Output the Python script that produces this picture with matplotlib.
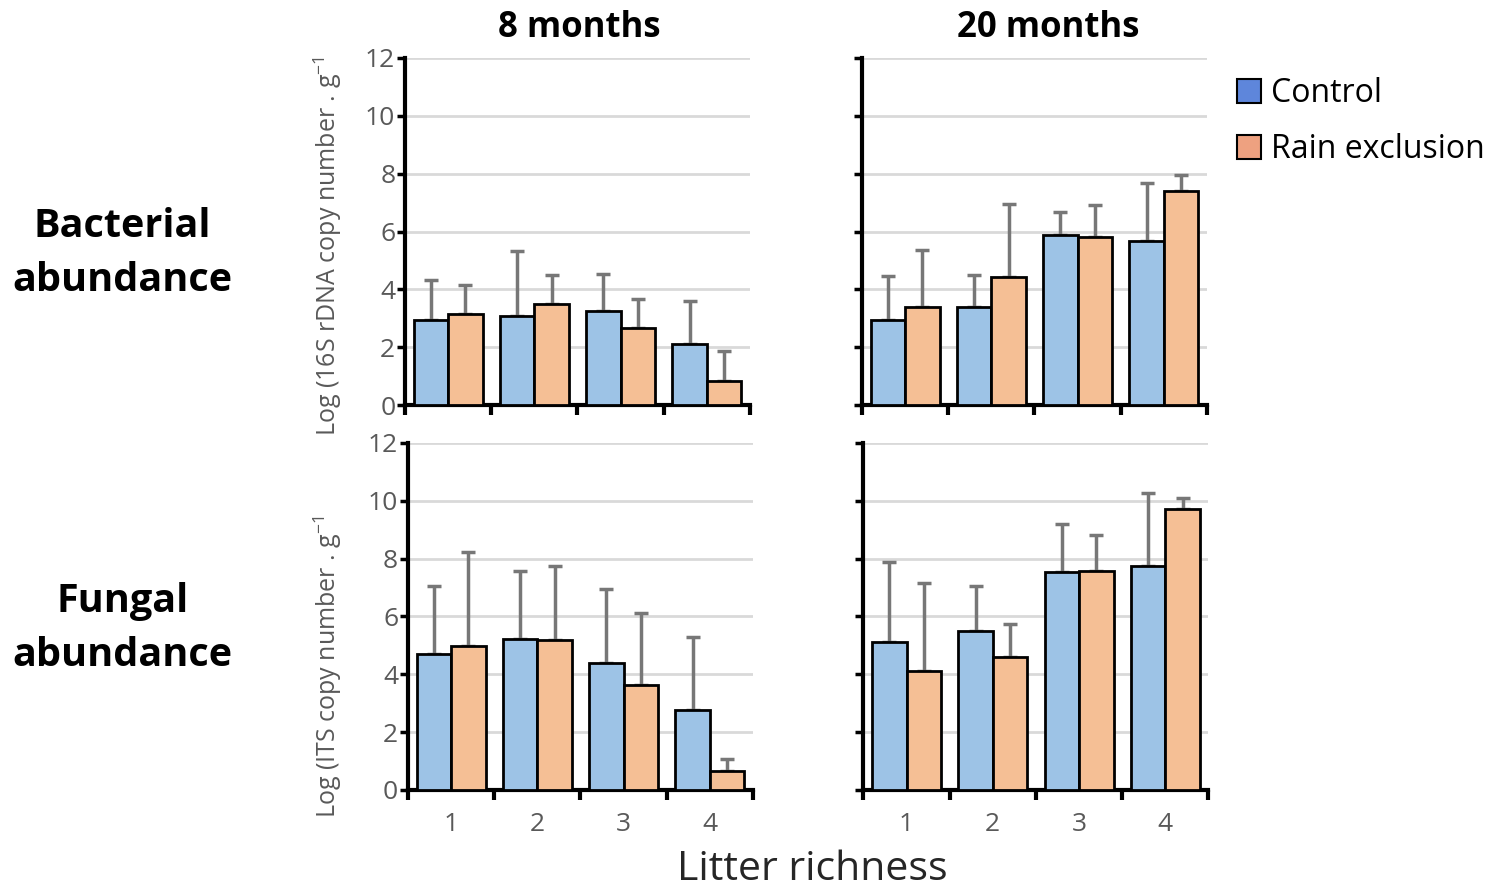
import numpy as np
import matplotlib.pyplot as plt
from matplotlib.patches import Patch

plt.rcParams['font.family'] = ['Open Sans', 'DejaVu Sans']
plt.rcParams['mathtext.fontset'] = 'custom'
plt.rcParams['mathtext.rm'] = 'Open Sans'
plt.rcParams['mathtext.it'] = 'Open Sans:italic'

richness = [1, 2, 3, 4]

# bacterial abundance, log(16S rDNA copies / g)
bact_8_ctrl = [2.93, 3.07, 3.25, 2.11]
bact_8_ctrl_top = [4.32, 5.31, 4.53, 3.59]
bact_8_rain = [3.14, 3.50, 2.65, 0.84]
bact_8_rain_top = [4.15, 4.50, 3.66, 1.86]
bact_20_ctrl = [2.93, 3.39, 5.89, 5.68]
bact_20_ctrl_top = [4.46, 4.51, 6.68, 7.67]
bact_20_rain = [3.39, 4.44, 5.82, 7.41]
bact_20_rain_top = [5.36, 6.94, 6.91, 7.95]

# fungal abundance, log(ITS copies / g)
fung_8_ctrl = [4.70, 5.23, 4.39, 2.77]
fung_8_ctrl_top = [7.06, 7.57, 6.94, 5.30]
fung_8_rain = [4.97, 5.19, 3.63, 0.64]
fung_8_rain_top = [8.22, 7.74, 6.13, 1.07]
fung_20_ctrl = [5.11, 5.50, 7.54, 7.73]
fung_20_ctrl_top = [7.88, 7.07, 9.18, 10.28]
fung_20_rain = [4.12, 4.59, 7.57, 9.70]
fung_20_rain_top = [7.15, 5.75, 8.83, 10.09]

bar_blue = '#9DC3E6'
bar_orange = '#F5BF95'
leg_blue = '#5E86DB'
leg_orange = '#EEA180'
gray = '#595959'

fig = plt.figure(figsize=(14.9, 8.88), dpi=100)

panels = [
    (bact_8_ctrl, bact_8_ctrl_top, bact_8_rain, bact_8_rain_top, [0.2718, 0.5439, 0.2315, 0.3908]),
    (bact_20_ctrl, bact_20_ctrl_top, bact_20_rain, bact_20_rain_top, [0.5785, 0.5439, 0.2315, 0.3908]),
    (fung_8_ctrl, fung_8_ctrl_top, fung_8_rain, fung_8_rain_top, [0.2738, 0.1104, 0.2315, 0.3908]),
    (fung_20_ctrl, fung_20_ctrl_top, fung_20_rain, fung_20_rain_top, [0.5795, 0.1104, 0.2315, 0.3908]),
]

x = np.array(richness)
w = 0.4
axes = []
for i, (c, ct, r, rt, rect) in enumerate(panels):
    ax = fig.add_axes(rect)
    axes.append(ax)
    c, ct, r, rt = map(np.array, (c, ct, r, rt))
    ax.bar(x - w / 2, c, w, color=bar_blue, edgecolor='black', linewidth=2, zorder=3)
    ax.bar(x + w / 2, r, w, color=bar_orange, edgecolor='black', linewidth=2, zorder=3)
    ax.errorbar(x - w / 2, c, yerr=[np.zeros(4), ct - c], fmt='none', ecolor='#777777',
                elinewidth=2.5, capsize=5, capthick=2.5, zorder=2)
    ax.errorbar(x + w / 2, r, yerr=[np.zeros(4), rt - r], fmt='none', ecolor='#777777',
                elinewidth=2.5, capsize=5, capthick=2.5, zorder=2)
    ax.set_xlim(0.5, 4.5)
    ax.set_ylim(0, 12)
    ax.set_yticks(np.arange(0, 13, 2))
    ax.grid(axis='y', color='#D9D9D9', linewidth=2, zorder=0)
    for s in ['top', 'right']:
        ax.spines[s].set_visible(False)
    for s in ['left', 'bottom']:
        ax.spines[s].set_linewidth(3)
    ax.set_xticks(np.arange(0.5, 4.6, 1))
    ax.set_xticklabels([])
    ax.set_xticks(richness, minor=True)
    ax.tick_params(axis='x', which='major', direction='out', length=7, width=3)
    ax.tick_params(axis='x', which='minor', length=0, labelsize=19, labelcolor=gray, pad=16)
    ax.tick_params(axis='y', direction='out', length=6, width=2.5, labelsize=19,
                   labelcolor=gray, pad=1)
    if i % 2 == 1:
        ax.set_yticklabels([])
    if i >= 2:
        ax.set_xticklabels([str(v) for v in richness], minor=True)

axes[0].set_ylabel(r'Log (16S rDNA copy number . g$^{\mathregular{-1}}$', fontsize=18,
                   color=gray)
axes[0].yaxis.set_label_coords(-0.177, 0.458)
axes[2].set_ylabel(r'Log (ITS copy number . g$^{\mathregular{-1}}$', fontsize=18,
                   color=gray)
axes[2].yaxis.set_label_coords(-0.186, 0.355)

fig.text(0.3886, 0.968, '8 months', fontsize=25, fontweight='bold', ha='center', va='center')
fig.text(0.7034, 0.968, '20 months', fontsize=25, fontweight='bold', ha='center', va='center')

fig.text(0.082, 0.714, 'Bacterial\nabundance', fontsize=28.5, fontweight='bold',
         ha='center', va='center', linespacing=1.5)
fig.text(0.082, 0.292, 'Fungal\nabundance', fontsize=28.5, fontweight='bold',
         ha='center', va='center', linespacing=1.5)
fig.text(0.545, 0.021, 'Litter richness', fontsize=29.5, ha='center', va='center',
         color='#262626')

handles = [Patch(facecolor=leg_blue, edgecolor='black', linewidth=1.5, label='Control'),
           Patch(facecolor=leg_orange, edgecolor='black', linewidth=1.5, label='Rain exclusion')]
fig.legend(handles=handles, loc='upper left', bbox_to_anchor=(1237 / 1490, 1 - 77 / 888),
           frameon=False, fontsize=23, handlelength=0.75, handleheight=0.75,
           handletextpad=0.3, labelspacing=0.72, borderpad=0, borderaxespad=0)

fig.savefig('out.png', dpi=100)
